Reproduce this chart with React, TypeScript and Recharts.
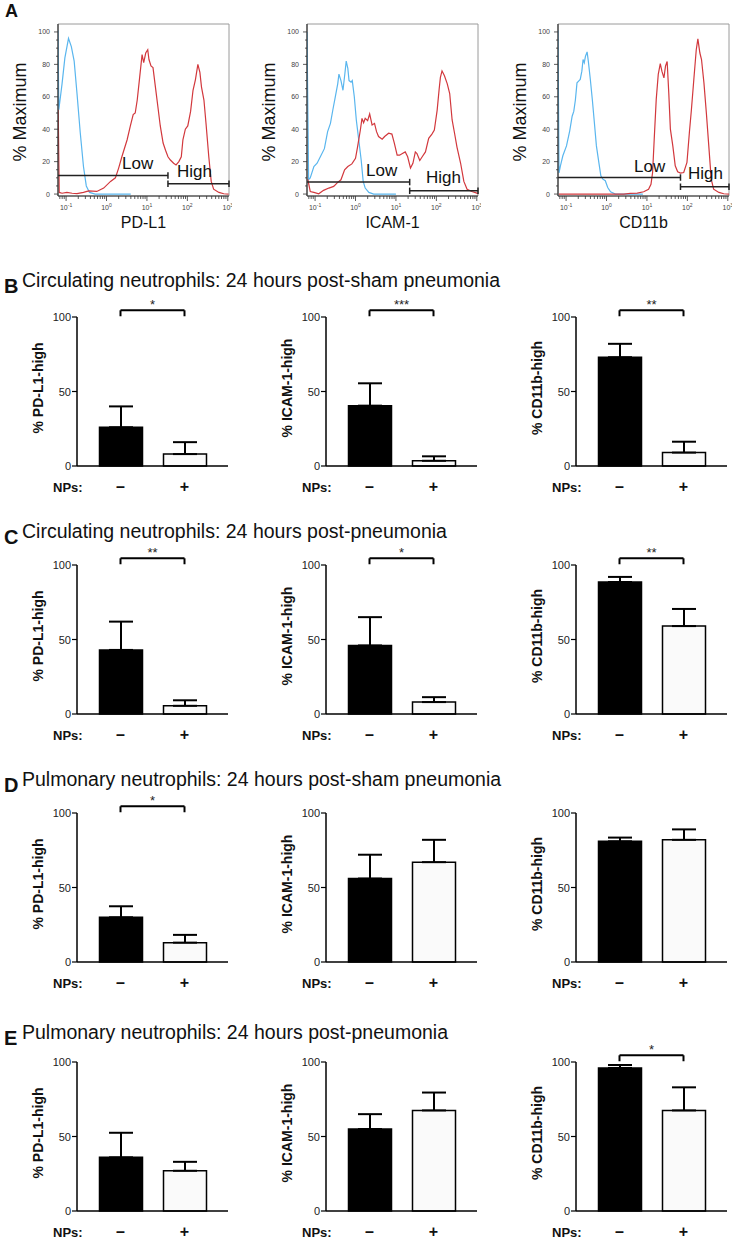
import React from 'react';
import {
  LineChart, Line, BarChart, Bar, Cell, ErrorBar,
  XAxis, YAxis, ReferenceLine, ReferenceArea,
} from 'recharts';

const FONT = '"Liberation Sans", Arial, Helvetica, sans-serif';

// ---------------- Panel A: flow histograms ----------------
// x = log10 fluorescence intensity, y = % of maximum
const histMarkers = ['PD-L1', 'ICAM-1', 'CD11b'];

const pdl1Isotype = [
  [-1.2, 101], [-1.18, 52], [-1.1, 68], [-1.03, 84], [-0.94, 96], [-0.87, 91],
  [-0.8, 82], [-0.73, 62], [-0.65, 38], [-0.57, 17], [-0.5, 5], [-0.42, 1],
  [-0.28, 0], [0.6, 0],
];
const pdl1Stained = [
  [-1.195, 52], [-1.17, 1], [-1.1, 0.5], [-0.98, 1], [-0.85, 0.5], [-0.73, 0.3],
  [-0.57, 1], [-0.44, 2], [-0.24, 1.6], [-0.07, 3.7], [0.1, 7.8], [0.22, 10],
  [0.3, 16], [0.38, 23], [0.51, 33.5], [0.59, 42], [0.66, 49], [0.71, 50],
  [0.76, 58], [0.82, 72], [0.88, 86], [0.92, 81], [0.97, 87], [1.02, 89],
  [1.05, 83], [1.1, 79], [1.15, 78], [1.21, 66], [1.27, 54], [1.33, 42],
  [1.4, 31.5], [1.46, 27], [1.52, 23], [1.58, 21], [1.66, 19], [1.72, 18],
  [1.79, 20], [1.85, 23], [1.89, 33.5], [1.95, 40], [2.01, 42], [2.08, 51],
  [2.14, 64], [2.2, 70.6], [2.26, 80], [2.31, 75], [2.35, 66], [2.41, 58],
  [2.46, 44], [2.53, 23], [2.59, 7.8], [2.65, 3], [2.78, 1], [2.9, 0.2], [3.02, 0],
];
const icamIsotype = [
  [-1.2, 100], [-1.16, 9], [-1.12, 10], [-1.03, 17], [-0.95, 19], [-0.87, 23],
  [-0.77, 28], [-0.69, 38.5], [-0.62, 43.6], [-0.56, 52], [-0.5, 60], [-0.44, 68],
  [-0.41, 74], [-0.36, 70], [-0.31, 64], [-0.26, 75], [-0.23, 82], [-0.19, 77.5],
  [-0.16, 70], [-0.11, 69], [-0.08, 70], [-0.03, 60], [0.02, 45.7], [0.08, 33.4],
  [0.14, 21], [0.19, 7.8], [0.24, 3.7], [0.33, 1], [0.45, 0], [1.0, 0],
];
const icamStained = [
  [-1.18, 9], [-1.12, 1.6], [-1.03, 1], [-0.91, 0.2], [-0.79, 2.3], [-0.66, 3.7],
  [-0.54, 4.7], [-0.44, 7.2], [-0.36, 8.8], [-0.27, 15], [-0.19, 17], [-0.09, 18.6],
  [0.0, 22], [0.05, 29], [0.12, 39.5], [0.16, 46.7], [0.2, 44], [0.24, 46.7],
  [0.3, 45.3], [0.35, 49.4], [0.41, 42.6], [0.47, 43.6], [0.52, 38.5], [0.57, 35.5],
  [0.66, 33.8], [0.72, 35.5], [0.82, 37.5], [0.9, 37], [0.96, 31.4], [1.03, 24],
  [1.09, 24], [1.16, 25], [1.23, 26], [1.29, 23], [1.36, 16], [1.42, 19],
  [1.48, 26], [1.52, 25], [1.59, 20.7], [1.65, 23], [1.73, 26], [1.81, 34.4],
  [1.89, 37], [1.95, 39.5], [2.02, 51.8], [2.07, 65], [2.1, 72], [2.14, 76],
  [2.2, 73], [2.27, 68], [2.33, 62], [2.39, 45.7], [2.45, 37.5], [2.51, 29],
  [2.6, 19], [2.68, 7.8], [2.76, 3], [2.88, 1.6], [3.0, 0.6], [3.03, 0],
];
const cd11bIsotype = [
  [-1.2, 101], [-1.175, 13], [-1.14, 17.4], [-1.08, 23.6], [-0.99, 29.7], [-0.91, 39],
  [-0.85, 48], [-0.81, 51], [-0.77, 58], [-0.73, 68.6], [-0.69, 69.7], [-0.65, 70.7],
  [-0.61, 75.8], [-0.58, 83], [-0.55, 81], [-0.52, 85], [-0.48, 87.7], [-0.45, 82],
  [-0.4, 70.7], [-0.35, 58], [-0.3, 44], [-0.25, 29.7], [-0.19, 19.5], [-0.14, 11.3],
  [-0.09, 9.2], [-0.03, 8.2], [0.03, 4], [0.1, 1.4], [0.22, 0], [0.9, 0],
];
const cd11bStained = [
  [-1.18, 0], [0.43, 0], [0.59, 0.4], [0.76, 0.6], [0.92, 1.4], [1.04, 3],
  [1.1, 6], [1.14, 13.3], [1.18, 33.8], [1.23, 58.4], [1.28, 73.8], [1.33, 80.5],
  [1.37, 75.8], [1.42, 71.7], [1.46, 79], [1.5, 81.8], [1.54, 62.5], [1.58, 40],
  [1.64, 29.7], [1.7, 17.4], [1.76, 13.7], [1.83, 12.9], [1.91, 13.3], [1.99, 19.5],
  [2.05, 38], [2.1, 52], [2.16, 70.7], [2.22, 89], [2.26, 95.7], [2.31, 87],
  [2.35, 83], [2.41, 68.6], [2.47, 50], [2.53, 29.7], [2.59, 9.2], [2.65, 3],
  [2.78, 1], [2.9, 0.2], [3.03, 0],
];
const isotypeCurves = [pdl1Isotype, icamIsotype, cd11bIsotype];
const stainedCurves = [pdl1Stained, icamStained, cd11bStained];

// Low / High gates: height of each bar and where Low ends / High starts
const gateLowY = [11.5, 7.4, 10.2];
const gateHighY = [6.4, 2.0, 4.5];
const gateSplit = [1.52, 1.34, 1.83];

const LOG_MIN = -1.2;
const LOG_MAX = 3.03;
const PCT_MIN = -1.2;
const PCT_MAX = 104.9;

const logTicks: number[] = [];
for (let n = -2; n <= 3; n++) {
  for (let k = 1; k <= 9; k++) {
    const v = +(n + Math.log10(k)).toFixed(4);
    if (v >= LOG_MIN && v <= LOG_MAX) logTicks.push(v);
  }
}
const pctTicks: number[] = [];
for (let v = 0; v <= 100; v += 5) pctTicks.push(v);

// ---------------- Panels B-E: bar charts ----------------
const npLabels = ['–', '+'];
const yLabels = ['% PD-L1-high', '% ICAM-1-high', '% CD11b-high'];
const rowLetters = ['B', 'C', 'D', 'E'];
const rowTitles = [
  'Circulating neutrophils: 24 hours post-sham pneumonia',
  'Circulating neutrophils: 24 hours post-pneumonia',
  'Pulmonary neutrophils: 24 hours post-sham pneumonia',
  'Pulmonary neutrophils: 24 hours post-pneumonia',
];

// [PD-L1, ICAM-1, CD11b] x [NPs -, NPs +]
const circShamMean = [[26, 8], [40.5, 3.5], [73, 9]];
const circShamSem = [[14, 8], [15, 3], [9, 7.3]];
const circShamStars = ['*', '***', '**'];

const circPnaMean = [[43, 5.5], [46, 8], [88.6, 59]];
const circPnaSem = [[19, 3.7], [19, 3.3], [3.4, 11.5]];
const circPnaStars = ['**', '*', '**'];

const pulmShamMean = [[30, 13], [56, 67], [81, 82]];
const pulmShamSem = [[7.4, 5.2], [16, 15], [2.5, 7]];
const pulmShamStars = ['*', '', ''];

const pulmPnaMean = [[36, 27], [55, 67.5], [96, 67.5]];
const pulmPnaSem = [[16.5, 6], [10, 12], [2, 15.5]];
const pulmPnaStars = ['', '', '*'];

const rowMeans = [circShamMean, circPnaMean, pulmShamMean, pulmPnaMean];
const rowSems = [circShamSem, circPnaSem, pulmShamSem, pulmPnaSem];
const rowStars = [circShamStars, circPnaStars, pulmShamStars, pulmPnaStars];

// layout
const histPlotLeft = [58, 307, 558];
const colAxisX = [77, 326, 576];
const rowTop = [317, 565, 813, 1062]; // y of the "100" tick
const titleBase = [287, 538, 786, 1039];
const BR_TOP = 104.5;
const BR_LOW = 100.5;

const LogTick = (props: any) => {
  const { x, y, payload } = props;
  const major = Math.abs(payload.value - Math.round(payload.value)) < 1e-6;
  return (
    <g>
      <line x1={x} x2={x} y1={y} y2={y + (major ? 5 : 3)} stroke="#333" strokeWidth={0.8} />
      {major && (
        <text x={x} y={y + 14} textAnchor="middle" fontSize={7} fill="#444" fontFamily={FONT}>
          10<tspan dy={-3} fontSize={5}>{Math.round(payload.value)}</tspan>
        </text>
      )}
    </g>
  );
};

const PctTick = (props: any) => {
  const { x, y, payload } = props;
  const major = payload.value % 20 === 0;
  return (
    <g>
      <line x1={x} x2={x - (major ? 4 : 2)} y1={y} y2={y} stroke="#333" strokeWidth={0.8} />
      {major && (
        <text x={x - 8} y={y + 2.5} textAnchor="end" fontSize={7} fill="#444" fontFamily={FONT}>
          {payload.value}
        </text>
      )}
    </g>
  );
};

const NpTick = (props: any) => {
  const { x, y, payload } = props;
  return (
    <text x={x} y={y + 26} textAnchor="middle" fontSize={16} fontWeight="bold" fill="#111" fontFamily={FONT}>
      {payload.value}
    </text>
  );
};

const ValTick = (props: any) => {
  const { x, y, payload } = props;
  return (
    <g>
      <line x1={x} x2={x + 5} y1={y} y2={y} stroke="#000" strokeWidth={1.2} />
      <text x={x - 1} y={y + 4} textAnchor="end" fontSize={11} fill="#222" fontFamily={FONT}>
        {payload.value}
      </text>
    </g>
  );
};

const Histogram = ({ idx }: { idx: number }) => {
  const iso = isotypeCurves[idx].map(([x, y]) => ({ x, y }));
  const stained = stainedCurves[idx].map(([x, y]) => ({ x, y }));
  const low = gateLowY[idx];
  const high = gateHighY[idx];
  const split = gateSplit[idx];
  const gate = { stroke: '#222', strokeWidth: 1.5, ifOverflow: 'visible' as const };
  return (
    <div style={{ position: 'absolute', left: histPlotLeft[idx] - 50, top: 19 }}>
      <LineChart width={224} height={197} margin={{ top: 5, right: 3, bottom: 0, left: 0 }}>
        <ReferenceArea x1={LOG_MIN} x2={LOG_MAX} y1={PCT_MIN} y2={PCT_MAX}
          fill="none" stroke="#9a9a9a" strokeWidth={1} ifOverflow="visible" />
        <XAxis type="number" dataKey="x" domain={[LOG_MIN, LOG_MAX]} ticks={logTicks}
          allowDataOverflow interval={0} tick={<LogTick />} tickLine={false}
          tickSize={0} tickMargin={0} height={20} axisLine={{ stroke: '#333', strokeWidth: 1.2 }} />
        <YAxis type="number" domain={[PCT_MIN, PCT_MAX]} ticks={pctTicks}
          allowDataOverflow interval={0} tick={<PctTick />} tickLine={false}
          tickSize={0} tickMargin={0} width={50} axisLine={{ stroke: '#333', strokeWidth: 1.2 }} />
        <Line data={iso} dataKey="y" stroke="#5ab6ee" strokeWidth={1.2} dot={false} isAnimationActive={false} />
        <Line data={stained} dataKey="y" stroke="#d2383d" strokeWidth={1.2} dot={false} isAnimationActive={false} />
        <ReferenceLine segment={[{ x: LOG_MIN, y: low }, { x: split, y: low }]} {...gate} />
        <ReferenceLine segment={[{ x: split, y: low - 2 }, { x: split, y: low + 2 }]} {...gate} />
        <ReferenceLine segment={[{ x: split, y: high }, { x: LOG_MAX, y: high }]} {...gate} />
        <ReferenceLine segment={[{ x: split, y: high - 2 }, { x: split, y: high + 2 }]} {...gate} />
        <ReferenceLine segment={[{ x: LOG_MAX, y: high - 2 }, { x: LOG_MAX, y: high + 2 }]} {...gate} />
      </LineChart>
    </div>
  );
};

const NpBars = ({ row, col }: { row: number; col: number }) => {
  const data = npLabels.map((np, j) => ({
    np,
    v: rowMeans[row][col][j],
    e: [0, rowSems[row][col][j]],
  }));
  const star = rowStars[row][col];
  const br = { stroke: '#000', strokeWidth: 2, ifOverflow: 'visible' as const };
  return (
    <div style={{ position: 'absolute', left: colAxisX[col] - 60, top: rowTop[row] - 20 }}>
      <BarChart width={216} height={199} data={data} margin={{ top: 20, right: 5, bottom: 0, left: 0 }}>
        <XAxis dataKey="np" padding={{ left: 11.5, right: 11.5 }} interval={0}
          tick={<NpTick />} tickLine={false} tickSize={0} tickMargin={0} height={30}
          axisLine={{ stroke: '#000', strokeWidth: 1.5 }} />
        <YAxis type="number" domain={[0, 100]} ticks={[0, 50, 100]} width={60}
          tickSize={5} tickMargin={0} interval={0} tick={<ValTick />} tickLine={false}
          axisLine={{ stroke: '#000', strokeWidth: 1.5 }} />
        <Bar dataKey="v" barSize={43} stroke="#000" strokeWidth={1.5} isAnimationActive={false}>
          {data.map((d, j) => (
            <Cell key={d.np} fill={j === 0 ? '#000' : '#fafafa'} />
          ))}
          <ErrorBar dataKey="e" direction="y" width={12} stroke="#000" strokeWidth={2} />
        </Bar>
        {star && (
          <ReferenceLine segment={[{ x: '–', y: BR_TOP }, { x: '+', y: BR_TOP }]} {...br}
            label={{ value: star, position: 'top', offset: 1, fontSize: 13, fill: '#222', fontFamily: FONT }} />
        )}
        {star && <ReferenceLine segment={[{ x: '–', y: BR_LOW }, { x: '–', y: BR_TOP }]} {...br} />}
        {star && <ReferenceLine segment={[{ x: '+', y: BR_LOW }, { x: '+', y: BR_TOP }]} {...br} />}
      </BarChart>
    </div>
  );
};

export default function App() {
  return (
    <div style={{ position: 'absolute', left: 0, top: 0, width: 732, height: 1250, background: '#fff', fontFamily: FONT }}>
      {histMarkers.map((m, i) => <Histogram key={m} idx={i} />)}
      {rowLetters.map((r, ri) => colAxisX.map((_, ci) => <NpBars key={r + ci} row={ri} col={ci} />))}

      <svg width={732} height={1250} style={{ position: 'absolute', left: 0, top: 0, pointerEvents: 'none' }}
        fontFamily={FONT}>
        <text x={5} y={17} fontSize={18} fontWeight="bold" fill="#111">A</text>
        {histMarkers.map((m, i) => {
          const cx = histPlotLeft[i] - 38;
          const cy = 112;
          return (
            <g key={m}>
              <text x={cx} y={cy} transform={`rotate(-90 ${cx} ${cy})`} textAnchor="middle"
                dominantBaseline="central" fontSize={18} fill="#111">% Maximum</text>
              <text x={histPlotLeft[i] + 85.5} y={228} textAnchor="middle" fontSize={16} fill="#111">{m}</text>
            </g>
          );
        })}
        <text x={122} y={169} fontSize={17} fill="#111">Low</text>
        <text x={177} y={177} fontSize={17} fill="#111">High</text>
        <text x={366} y={176} fontSize={17} fill="#111">Low</text>
        <text x={426} y={183} fontSize={17} fill="#111">High</text>
        <text x={634} y={172} fontSize={17} fill="#111">Low</text>
        <text x={688} y={179} fontSize={17} fill="#111">High</text>

        {rowLetters.map((r, ri) => (
          <g key={r}>
            <text x={4} y={titleBase[ri] + 6} fontSize={20} fontWeight="bold" fill="#111">{r}</text>
            <text x={22} y={titleBase[ri]} fontSize={19.5} fill="#111">{rowTitles[ri]}</text>
            {colAxisX.map((ax, ci) => {
              const cx = ax - 39;
              const cy = rowTop[ri] + 71;
              return (
                <g key={ci}>
                  <text x={cx} y={cy} transform={`rotate(-90 ${cx} ${cy})`} textAnchor="middle"
                    dominantBaseline="central" fontSize={14} fontWeight="bold" fill="#111">{yLabels[ci]}</text>
                  <text x={ax - 24} y={rowTop[ri] + 149 + 26} fontSize={13} fontWeight="bold" fill="#111">NPs:</text>
                </g>
              );
            })}
          </g>
        ))}
      </svg>
    </div>
  );
}
